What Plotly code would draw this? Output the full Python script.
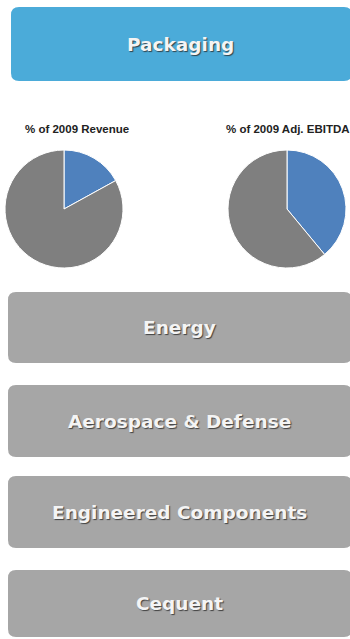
import plotly.graph_objects as go

# ---- data ----
segments = ["Packaging", "Energy", "Aerospace & Defense", "Engineered Components", "Cequent"]
pie_labels = ["Packaging", "Other segments"]
revenue_share = [17, 83]
ebitda_share = [39, 61]
pie_titles = ["% of 2009 Revenue", "% of 2009 Adj. EBITDA"]

# ---- layout (pixels) ----
W, H = 350, 639
box_rects = [  # x0, y0, x1, y1 in pixels (top-left origin)
    (11, 7, 352, 81),
    (8, 292, 352, 363),
    (8, 385, 352, 457),
    (8, 476, 352, 548),
    (8, 570, 352, 637),
]
box_colors = ["#4BABD9", "#A6A6A6", "#A6A6A6", "#A6A6A6", "#A6A6A6"]
pie_boxes = [(5, 150, 123, 268), (227, 150, 347, 268)]
title_pos = [(77, 129), (288, 129)]


def px(x):
    return x / W


def py(y):
    return 1 - y / H


def rounded_path(x0, y0, x1, y1, r=8):
    X0, X1 = px(x0), px(x1)
    Y0, Y1 = py(y0), py(y1)  # Y0 top (larger), Y1 bottom
    rx, ry = r / W, r / H
    return (
        f"M {X0+rx},{Y0} L {X1-rx},{Y0} Q {X1},{Y0} {X1},{Y0-ry} "
        f"L {X1},{Y1+ry} Q {X1},{Y1} {X1-rx},{Y1} "
        f"L {X0+rx},{Y1} Q {X0},{Y1} {X0},{Y1+ry} "
        f"L {X0},{Y0-ry} Q {X0},{Y0} {X0+rx},{Y0} Z"
    )


fig = go.Figure()

for vals, (x0, y0, x1, y1) in zip([revenue_share, ebitda_share], pie_boxes):
    fig.add_trace(go.Pie(
        labels=pie_labels, values=vals, sort=False, direction="clockwise", rotation=0,
        marker=dict(colors=["#4F81BD", "#7F7F7F"], line=dict(color="white", width=1)),
        textinfo="none", showlegend=False,
        domain=dict(x=[px(x0), px(x1)], y=[py(y1), py(y0)]),
    ))

shapes = []
annotations = []
for name, (x0, y0, x1, y1), col in zip(segments, box_rects, box_colors):
    shapes.append(dict(type="path", xref="paper", yref="paper", path=rounded_path(x0, y0, x1, y1),
                       fillcolor=col, line=dict(width=0), layer="below"))
    annotations.append(dict(
        x=px((x0 + min(x1, W)) / 2), y=py((y0 + y1) / 2), xref="paper", yref="paper",
        text=f"<b>{name}</b>", showarrow=False, xanchor="center", yanchor="middle",
        font=dict(family="DejaVu Sans", size=18.5, color="#F4F4F4",
                  shadow="1px 1px 1px rgba(40,40,40,0.8)"),
    ))

for t, (x, y) in zip(pie_titles, title_pos):
    annotations.append(dict(
        x=px(x), y=py(y), xref="paper", yref="paper", text=f"<b>{t}</b>", showarrow=False,
        xanchor="center", yanchor="middle",
        font=dict(family="Liberation Sans", size=11.5, color="#222"),
    ))

fig.update_layout(
    width=W, height=H, margin=dict(l=0, r=0, t=0, b=0),
    paper_bgcolor="white", plot_bgcolor="white",
    shapes=shapes, annotations=annotations,
)

fig.write_html("out.html")
